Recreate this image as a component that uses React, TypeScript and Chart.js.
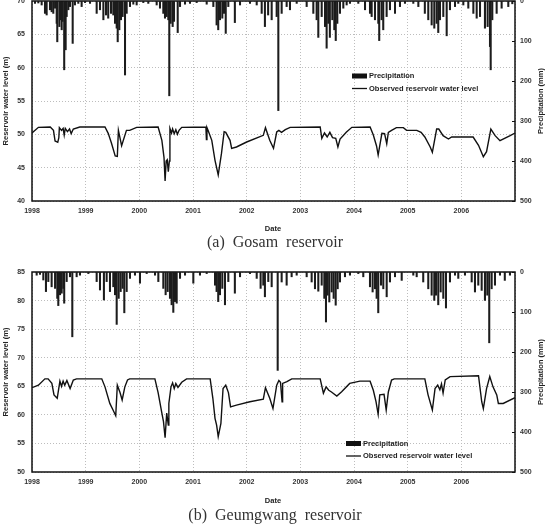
import React, { useEffect, useRef } from 'react';
import { Chart, registerables } from 'chart.js';

Chart.register(...registerables);

// ---------- data (decimal year, value) ----------
const yearStart = 1998;
const yearEnd = 2007;

const gosamLevel: [number, number][] = [
  [1998.0, 50.2], [1998.12, 51.05], [1998.34, 51.1], [1998.4, 50.6], [1998.43, 49.0], [1998.48, 48.8],
  [1998.5, 49.5], [1998.51, 51.0], [1998.55, 50.6], [1998.58, 50.9], [1998.6, 49.9], [1998.62, 50.9],
  [1998.66, 50.4], [1998.7, 50.8], [1998.73, 50.1], [1998.77, 50.8], [1998.89, 51.1], [1999.36, 51.1],
  [1999.42, 50.15], [1999.48, 48.7], [1999.55, 46.75], [1999.59, 46.7], [1999.61, 50.6], [1999.67, 48.3],
  [1999.76, 50.6], [1999.82, 50.6], [1999.95, 51.05], [2000.35, 51.1], [2000.42, 49.1], [2000.46, 46.5],
  [2000.48, 43.0], [2000.5, 46.0], [2000.52, 46.2], [2000.54, 44.4], [2000.56, 46.0], [2000.57, 50.9],
  [2000.6, 50.2], [2000.62, 50.8], [2000.65, 50.1], [2000.68, 50.7], [2000.71, 50.0], [2000.74, 50.6],
  [2000.79, 51.05], [2001.24, 51.1], [2001.25, 49.2], [2001.26, 51.0], [2001.28, 50.6], [2001.35, 49.1],
  [2001.41, 46.1], [2001.47, 43.9], [2001.53, 47.1], [2001.58, 50.4], [2001.61, 50.3], [2001.69, 49.1],
  [2001.72, 47.9], [2001.81, 48.1], [2002.0, 48.85], [2002.31, 49.85], [2002.35, 51.0], [2002.43, 49.1],
  [2002.5, 47.9], [2002.56, 50.35], [2002.6, 50.6], [2002.65, 50.3], [2002.72, 50.7], [2002.81, 51.05],
  [2003.37, 51.1], [2003.4, 49.4], [2003.45, 50.2], [2003.5, 49.6], [2003.55, 50.3], [2003.6, 49.5],
  [2003.66, 49.4], [2003.7, 48.1], [2003.74, 49.3], [2003.86, 50.35], [2003.96, 51.05], [2004.3, 51.1],
  [2004.36, 49.9], [2004.42, 48.25], [2004.45, 46.9], [2004.52, 50.15], [2004.57, 50.1], [2004.61, 48.6],
  [2004.64, 50.3], [2004.7, 50.6], [2004.79, 51.0], [2004.92, 51.0], [2004.98, 50.6], [2005.17, 50.6],
  [2005.25, 50.3], [2005.32, 49.6], [2005.42, 48.1], [2005.46, 47.3], [2005.54, 50.8], [2005.58, 50.8],
  [2005.66, 49.8], [2005.76, 49.3], [2005.82, 49.6], [2006.22, 49.6], [2006.32, 48.35], [2006.41, 46.65],
  [2006.47, 47.4], [2006.55, 50.8], [2006.63, 49.8], [2006.72, 49.05], [2006.91, 49.8], [2007.0, 50.2],
];

const gosamRain: [number, number][] = [
  [1998.056, 6], [1998.118, 5], [1998.18, 10], [1998.242, 31], [1998.273, 35], [1998.335, 22],
  [1998.366, 27], [1998.397, 31], [1998.43, 18], [1998.46, 56], [1998.471, 102], [1998.51, 64],
  [1998.534, 47], [1998.553, 72], [1998.57, 51], [1998.6, 172], [1998.627, 122], [1998.646, 39],
  [1998.677, 22], [1998.708, 14], [1998.758, 106], [1998.8, 10], [1998.863, 6], [1998.925, 14],
  [1998.988, 4], [1999.081, 6], [1999.205, 31], [1999.267, 22], [1999.33, 47], [1999.379, 35],
  [1999.42, 43], [1999.472, 31], [1999.515, 35], [1999.547, 56], [1999.578, 68], [1999.597, 102],
  [1999.627, 72], [1999.658, 47], [1999.689, 39], [1999.733, 185], [1999.764, 31], [1999.826, 14],
  [1999.888, 8], [1999.95, 10], [2000.074, 4], [2000.167, 6], [2000.323, 10], [2000.385, 18],
  [2000.447, 31], [2000.478, 43], [2000.509, 39], [2000.54, 47], [2000.558, 237], [2000.584, 56],
  [2000.621, 64], [2000.646, 51], [2000.715, 79], [2000.758, 14], [2000.851, 8], [2000.944, 6],
  [2001.068, 4], [2001.255, 8], [2001.379, 14], [2001.44, 60], [2001.47, 72], [2001.503, 47],
  [2001.546, 43], [2001.577, 31], [2001.61, 81], [2001.658, 14], [2001.78, 54], [2001.876, 10],
  [2002.062, 6], [2002.187, 10], [2002.28, 31], [2002.34, 64], [2002.4, 35], [2002.466, 47],
  [2002.559, 39], [2002.59, 274], [2002.652, 31], [2002.745, 14], [2002.807, 22], [2002.932, 6],
  [2003.118, 14], [2003.242, 31], [2003.304, 47], [2003.335, 91], [2003.398, 39], [2003.46, 64],
  [2003.49, 118], [2003.522, 56], [2003.55, 91], [2003.596, 47], [2003.633, 72], [2003.66, 99],
  [2003.689, 56], [2003.739, 31], [2003.801, 18], [2003.863, 10], [2003.925, 6], [2004.08, 6],
  [2004.205, 22], [2004.298, 31], [2004.329, 39], [2004.391, 47], [2004.453, 56], [2004.47, 99],
  [2004.515, 47], [2004.545, 72], [2004.608, 39], [2004.67, 22], [2004.764, 31], [2004.857, 14],
  [2004.95, 6], [2005.105, 6], [2005.199, 14], [2005.32, 31], [2005.384, 47], [2005.447, 60],
  [2005.496, 68], [2005.54, 56], [2005.57, 79], [2005.602, 47], [2005.664, 39], [2005.727, 87],
  [2005.788, 22], [2005.882, 14], [2005.943, 6], [2006.037, 10], [2006.13, 18], [2006.224, 31],
  [2006.286, 43], [2006.348, 39], [2006.44, 68], [2006.49, 64], [2006.534, 114], [2006.547, 172],
  [2006.577, 47], [2006.658, 31], [2006.751, 18], [2006.875, 14], [2006.95, 7],
];

const geumLevel: [number, number][] = [
  [1998.0, 64.75], [1998.12, 65.2], [1998.24, 66.3], [1998.3, 66.3], [1998.37, 65.5], [1998.41, 63.5],
  [1998.47, 62.9], [1998.52, 65.9], [1998.55, 65.0], [1998.58, 65.9], [1998.61, 65.2], [1998.65, 66.0],
  [1998.71, 64.6], [1998.77, 66.1], [1998.83, 66.3], [1999.3, 66.3], [1999.36, 64.9], [1999.45, 62.0],
  [1999.51, 60.85], [1999.56, 59.85], [1999.59, 65.2], [1999.64, 63.9], [1999.68, 62.6], [1999.73, 64.9],
  [1999.78, 66.1], [1999.82, 66.3], [2000.29, 66.3], [2000.35, 63.9], [2000.42, 60.3], [2000.45, 58.8],
  [2000.48, 56.0], [2000.51, 60.3], [2000.54, 58.2], [2000.55, 62.0], [2000.59, 64.9], [2000.62, 65.6],
  [2000.65, 64.6], [2000.68, 65.5], [2000.72, 64.8], [2000.79, 65.7], [2000.88, 66.3], [2001.32, 66.3],
  [2001.37, 62.9], [2001.41, 59.4], [2001.44, 58.2], [2001.47, 56.2], [2001.52, 58.5], [2001.56, 64.6],
  [2001.61, 65.2], [2001.66, 63.9], [2001.7, 61.4], [2001.81, 61.7], [2002.06, 62.3], [2002.31, 62.75],
  [2002.35, 64.75], [2002.43, 62.9], [2002.49, 61.1], [2002.56, 65.2], [2002.6, 66.0], [2002.63, 65.7],
  [2002.66, 62.3], [2002.67, 65.5], [2002.75, 65.8], [2002.84, 66.3], [2003.37, 66.3], [2003.43, 63.8],
  [2003.48, 64.9], [2003.53, 64.3], [2003.58, 64.0], [2003.68, 63.3], [2003.77, 64.05], [2003.92, 65.5],
  [2004.11, 65.9], [2004.3, 65.9], [2004.36, 64.3], [2004.41, 62.3], [2004.45, 60.1], [2004.48, 63.5],
  [2004.56, 63.6], [2004.6, 60.85], [2004.64, 64.0], [2004.7, 66.1], [2004.75, 66.3], [2005.32, 66.3],
  [2005.38, 63.5], [2005.46, 60.85], [2005.51, 64.6], [2005.56, 65.2], [2005.6, 64.4], [2005.63, 65.4],
  [2005.66, 63.8], [2005.7, 66.1], [2005.79, 66.7], [2006.32, 66.85], [2006.38, 62.3], [2006.41, 61.1],
  [2006.47, 64.6], [2006.53, 66.7], [2006.59, 64.9], [2006.66, 63.5], [2006.69, 62.0], [2006.78, 62.0],
  [2007.0, 63.0],
];

const geumRain: [number, number][] = [
  [1998.087, 8], [1998.149, 6], [1998.211, 20], [1998.26, 49], [1998.304, 24], [1998.366, 37],
  [1998.43, 41], [1998.471, 66], [1998.49, 84], [1998.522, 57], [1998.553, 53], [1998.584, 41],
  [1998.6, 78], [1998.646, 24], [1998.708, 12], [1998.751, 162], [1998.832, 12], [1998.894, 8],
  [1999.05, 4], [1999.205, 24], [1999.267, 45], [1999.34, 70], [1999.391, 24], [1999.453, 49],
  [1999.515, 37], [1999.547, 57], [1999.578, 131], [1999.615, 66], [1999.652, 49], [1999.689, 41],
  [1999.72, 102], [1999.764, 49], [1999.826, 16], [1999.919, 8], [2000.012, 28], [2000.137, 4],
  [2000.292, 8], [2000.354, 24], [2000.447, 41], [2000.49, 57], [2000.528, 49], [2000.571, 66],
  [2000.602, 82], [2000.633, 101], [2000.664, 74], [2000.696, 78], [2000.758, 16], [2000.851, 8],
  [2001.006, 28], [2001.13, 8], [2001.255, 4], [2001.41, 33], [2001.44, 49], [2001.47, 74],
  [2001.503, 57], [2001.546, 41], [2001.596, 82], [2001.658, 24], [2001.78, 53], [2001.876, 12],
  [2002.062, 4], [2002.187, 16], [2002.26, 41], [2002.31, 33], [2002.34, 62], [2002.403, 24],
  [2002.466, 37], [2002.578, 246], [2002.652, 25], [2002.745, 33], [2002.838, 12], [2002.932, 8],
  [2003.118, 12], [2003.211, 25], [2003.273, 42], [2003.335, 48], [2003.398, 33], [2003.447, 66],
  [2003.478, 125], [2003.509, 58], [2003.54, 75], [2003.584, 50], [2003.621, 66], [2003.659, 83],
  [2003.696, 42], [2003.739, 25], [2003.832, 12], [2003.925, 8], [2004.08, 4], [2004.173, 12],
  [2004.298, 37], [2004.347, 50], [2004.391, 42], [2004.422, 66], [2004.452, 102], [2004.503, 33],
  [2004.546, 42], [2004.609, 62], [2004.67, 25], [2004.764, 12], [2004.889, 21], [2005.105, 8],
  [2005.168, 12], [2005.29, 25], [2005.384, 42], [2005.447, 58], [2005.496, 71], [2005.527, 58],
  [2005.57, 82], [2005.615, 50], [2005.664, 66], [2005.714, 90], [2005.788, 25], [2005.882, 8],
  [2005.943, 16], [2006.068, 8], [2006.193, 25], [2006.254, 50], [2006.316, 33], [2006.379, 46],
  [2006.44, 71], [2006.484, 58], [2006.52, 177], [2006.565, 42], [2006.627, 33], [2006.72, 8],
  [2006.81, 21], [2006.906, 8],
];

const rainMax = 500;
const rainStep = 100;
const levelStep = 5;

// ---------- panel description ----------
interface Panel {
  key: string;
  level: [number, number][];
  rain: [number, number][];
  levelMin: number;
  levelMax: number;
  caption: string;
  height: number;
  padTop: number;
  xAxisH: number;
  legendX: number;
  legendY: number;
  dateY: number;
  captionY: number;
}

const panels: Panel[] = [
  {
    key: 'a', level: gosamLevel, rain: gosamRain, levelMin: 40, levelMax: 70,
    caption: '(a)  Gosam  reservoir', height: 255, padTop: 1, xAxisH: 54,
    legendX: 352, legendY: 76, dateY: 229, captionY: 243,
  },
  {
    key: 'b', level: geumLevel, rain: geumRain, levelMin: 50, levelMax: 85,
    caption: '(b)  Geumgwang  reservoir', height: 269, padTop: 17, xAxisH: 52,
    legendX: 346, legendY: 188.5, dateY: 246, captionY: 261,
  },
];

const SANS = '"Liberation Sans", Arial, sans-serif';
const tickFont = { family: SANS, size: 7, weight: 'bold' as const };

function zeroPad(s: any) {
  s.paddingTop = 0;
  s.paddingBottom = 0;
  s.paddingLeft = 0;
  s.paddingRight = 0;
}

function makeDecor(p: Panel) {
  return {
    id: 'decor_' + p.key,
    afterDraw(chart: any) {
      const { ctx, chartArea: a } = chart;
      ctx.save();
      // frame
      ctx.strokeStyle = '#111';
      ctx.lineWidth = 1.5;
      ctx.strokeRect(a.left, a.top, a.right - a.left, a.bottom - a.top);
      // right axis inner ticks
      const y2 = chart.scales.y2;
      ctx.lineWidth = 1;
      for (let v = 0; v <= rainMax; v += rainStep) {
        const yy = Math.round(y2.getPixelForValue(v)) + 0.5;
        ctx.beginPath();
        ctx.moveTo(a.right - 3, yy);
        ctx.lineTo(a.right, yy);
        ctx.stroke();
      }
      // legend
      ctx.fillStyle = '#111';
      ctx.fillRect(p.legendX, p.legendY - 2.5, 15, 5);
      ctx.beginPath();
      ctx.lineWidth = 1.3;
      ctx.moveTo(p.legendX, p.legendY + 12.5);
      ctx.lineTo(p.legendX + 15, p.legendY + 12.5);
      ctx.stroke();
      ctx.font = `bold 7.5px ${SANS}`;
      ctx.fillStyle = '#222';
      ctx.textAlign = 'left';
      ctx.textBaseline = 'middle';
      ctx.fillText('Precipitation', p.legendX + 17, p.legendY);
      ctx.fillText('Observed reservoir water level', p.legendX + 17, p.legendY + 12.5);
      // axis titles
      const midY = (a.top + a.bottom) / 2;
      ctx.textAlign = 'center';
      ctx.save();
      ctx.translate(6, midY);
      ctx.rotate(-Math.PI / 2);
      ctx.fillText('Reservoir water level (m)', 0, 0);
      ctx.restore();
      ctx.save();
      ctx.translate(541, midY);
      ctx.rotate(-Math.PI / 2);
      ctx.fillText('Precipitation (mm)', 0, 0);
      ctx.restore();
      ctx.fillText('Date', 273, p.dateY);
      // caption
      ctx.font = `16px "Liberation Serif", "DejaVu Serif", serif`;
      ctx.fillStyle = '#333';
      ctx.fillText(p.caption, 275, p.captionY);
      ctx.restore();
    },
  };
}

function buildChart(canvas: HTMLCanvasElement, p: Panel) {
  return new Chart(canvas, {
    type: 'line',
    data: {
      datasets: [
        {
          type: 'line',
          label: 'Observed reservoir water level',
          data: p.level.map(([x, y]) => ({ x, y })),
          borderColor: '#111',
          borderWidth: 1.4,
          pointRadius: 0,
          tension: 0,
          yAxisID: 'y',
          order: 0,
        } as any,
        {
          type: 'bar',
          label: 'Precipitation',
          data: p.rain.map(([x, y]) => ({ x, y })),
          backgroundColor: '#1c1c1c',
          borderWidth: 0,
          barThickness: 1.4,
          yAxisID: 'y2',
          order: 1,
        } as any,
      ],
    },
    options: {
      responsive: false,
      animation: false,
      events: [],
      layout: { autoPadding: false, padding: { top: p.padTop, left: 0, right: 0, bottom: 0 } },
      plugins: { legend: { display: false }, tooltip: { enabled: false } },
      scales: {
        x: {
          type: 'linear',
          min: yearStart,
          max: yearEnd,
          offset: false,
          afterFit: (s: any) => { s.height = p.xAxisH; zeroPad(s); },
          ticks: {
            stepSize: 1,
            padding: 6,
            font: tickFont,
            color: '#333',
            maxRotation: 0,
            autoSkip: false,
            callback: (v: any) => (Number(v) >= yearEnd ? '' : String(v)),
          },
          grid: { color: '#bdbdbd', lineWidth: 1, drawTicks: false, offset: false },
          border: { display: false, dash: [1, 2] },
        },
        y: {
          position: 'left',
          min: p.levelMin,
          max: p.levelMax,
          afterFit: (s: any) => { s.width = 32; zeroPad(s); },
          ticks: { stepSize: levelStep, padding: 7, font: tickFont, color: '#333' },
          grid: { color: '#bdbdbd', lineWidth: 1, drawTicks: false },
          border: { display: false, dash: [1, 2] },
        },
        y2: {
          position: 'right',
          reverse: true,
          min: 0,
          max: rainMax,
          afterFit: (s: any) => { s.width = 35; zeroPad(s); },
          ticks: { stepSize: rainStep, padding: 5, font: tickFont, color: '#333' },
          grid: { drawOnChartArea: false, drawTicks: false },
          border: { display: false },
        },
      },
    } as any,
    plugins: [makeDecor(p)],
  });
}

function PanelChart({ p, top }: { p: Panel; top: number }) {
  const ref = useRef<HTMLCanvasElement>(null);
  useEffect(() => {
    if (!ref.current) return;
    const c = buildChart(ref.current, p);
    return () => c.destroy();
  }, [p]);
  return (
    <canvas
      ref={ref}
      width={550}
      height={p.height}
      style={{ position: 'absolute', left: 0, top, width: 550, height: p.height }}
    />
  );
}

export default function App() {
  return (
    <div style={{ position: 'absolute', left: 0, top: 0, width: 550, height: 524, background: '#fff', overflow: 'hidden' }}>
      <PanelChart p={panels[0]} top={0} />
      <PanelChart p={panels[1]} top={panels[0].height} />
    </div>
  );
}
